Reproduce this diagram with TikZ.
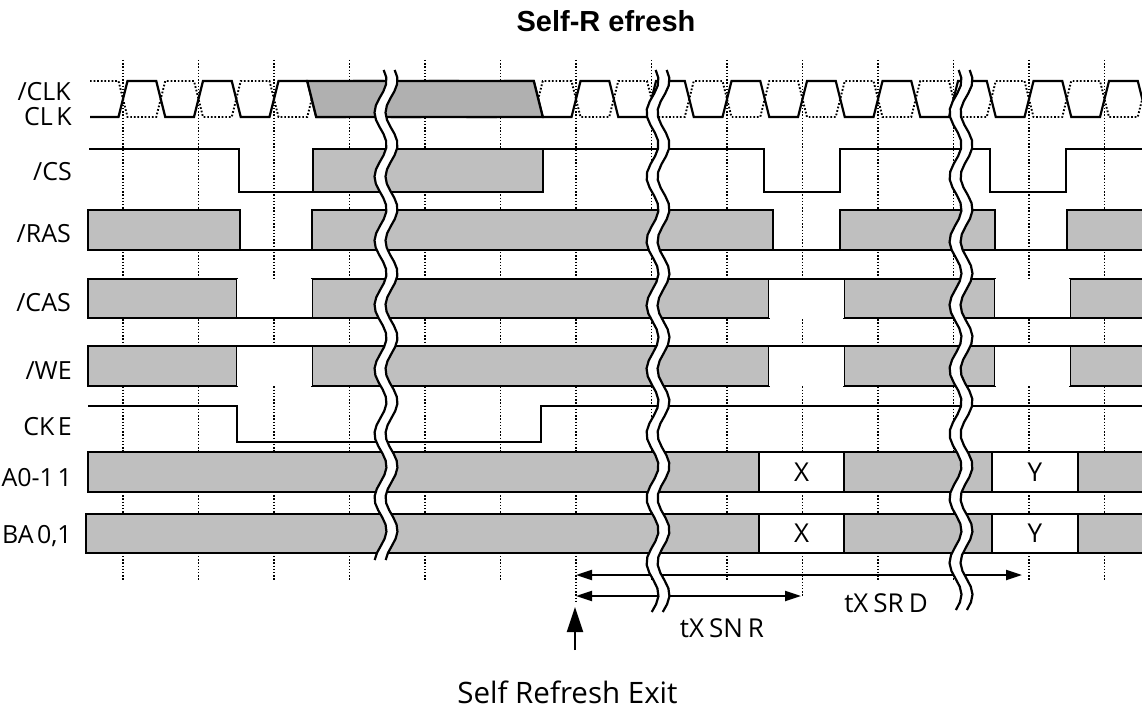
\documentclass[tikz,border=0pt]{standalone}
\usepackage{fontspec}
\setmainfont{Open Sans}
\newfontfamily\titlefont{Liberation Sans}
\usetikzlibrary{arrows.meta}

\tikzset{
  wave/.style={line width=2.2pt, line join=miter},
  bus/.style={wave, fill=gray!50},
  idle/.style={fill=white},
  clkbar/.style={line width=1.9pt, dash pattern=on 1.7pt off 1.9pt},
  gridline/.style={line width=1.5pt, dash pattern=on 1.4pt off 1.8pt},
  tight/.style={execute at begin node={\spaceskip=#1\relax}},
  siglabel/.style={anchor=base east, inner sep=0pt, font=\fontsize{25}{28}\selectfont, tight=3.5pt},
  txt/.style={anchor=base, inner sep=0pt, font=\fontsize{26}{28}\selectfont, tight=5pt},
  dim/.style={line width=2.2pt, <->}
}

% break mark: x centre, top, bottom
\newcommand{\sigbreak}[3]{%
  \fill[white] plot[domain=#2:#3, samples=70] ({#1-5.5+6*sin(5.6*\x)},\x)
    -- plot[domain=#3:#2, samples=70] ({#1+5.5+6*sin(5.6*\x)},\x) -- cycle;
  \draw[wave] plot[domain=#2:#3, samples=70] ({#1-5.5+6*sin(5.6*\x)},\x);
  \draw[wave] plot[domain=#2:#3, samples=70] ({#1+5.5+6*sin(5.6*\x)},\x);
}

\begin{document}
\begin{tikzpicture}[x=1pt, y=-1pt, >={Triangle[length=16pt,width=10pt]}]
\useasboundingbox (0,0) rectangle (1142,709);

% grid
\foreach \k/\yend in {0/580,1/580,2/580,3/580,4/580,5/580,6/603,7/580,8/580,9/596,10/580,11/580,12/580,13/580}
  \draw[gridline] ({123+75.5*\k},60) -- ({123+75.5*\k},\yend);

% clock
\draw[clkbar] (90,81) \foreach \k in {0,...,13} { -- ({123+75.5*\k-4.5},81) -- ({123+75.5*\k+4.5},117)
  -- ({160.75+75.5*\k-4.5},117) -- ({160.75+75.5*\k+4.5},81) };
\draw[wave] (90,117) \foreach \k in {0,...,13} { -- ({123+75.5*\k-4.5},117) -- ({123+75.5*\k+4.5},81)
  -- ({160.75+75.5*\k-4.5},81) -- ({160.75+75.5*\k+4.5},117) };
\filldraw[wave, fill=gray!62] (307.25,81) -- (533.75,81) -- (542.75,117) -- (316.25,117) -- cycle;

% /CS
\draw[wave] (89,149) -- (239,149) -- (239,192) -- (313,192);
\draw[bus] (313,149) rectangle (543,192);
\draw[wave] (543,149) -- (764,149) -- (764,192) -- (840,192) -- (840,149) -- (990,149)
  -- (990,192) -- (1066,192) -- (1066,149) -- (1150,149);

% /RAS
\foreach \a/\b in {88/240,312/773,840/995,1067/1150}
  \draw[bus] (\a,210) rectangle (\b,250);
\foreach \a/\b in {240/312,773/840,995/1067}
  \draw[wave] (\a,250) -- (\b,250);

% /CAS
\foreach \a/\b in {88/237,312/769,844/995,1070/1150}
  \draw[bus] (\a,279) rectangle (\b,318);
\foreach \a/\b/\lvl in {237/312/318,769/844/279,995/1070/318} {
  \fill[idle] (\a,279) rectangle (\b,318);
  \draw[wave] (\a,\lvl) -- (\b,\lvl);
}

% /WE
\foreach \a/\b in {88/237,312/769,844/995,1070/1150}
  \draw[bus] (\a,346) rectangle (\b,386);
\foreach \a/\b in {237/312,769/844,995/1070} {
  \fill[idle] (\a,346) rectangle (\b,386);
  \draw[wave] (\a,346) -- (\b,346);
}

% CKE
\draw[wave] (88,406) -- (237,406) -- (237,442) -- (541,442) -- (541,406) -- (1150,406);

% A0-11 and BA0,1
\foreach \a/\b in {88/759,844/992,1078/1150}
  \draw[bus] (\a,452) rectangle (\b,492);
\draw[wave, idle] (759,452) rectangle (844,492);
\draw[wave, idle] (992,452) rectangle (1078,492);
\node[font=\fontsize{26}{28}\selectfont] (ax) at (801.5,472) {X};
\node[font=\fontsize{26}{28}\selectfont] (ay) at (1035,472) {Y};

\foreach \a/\b in {86/759,844/992,1078/1150}
  \draw[bus] (\a,514) rectangle (\b,553);
\draw[wave, idle] (759,514) rectangle (844,553);
\draw[wave, idle] (992,514) rectangle (1078,553);
\node[font=\fontsize{26}{28}\selectfont] (bx) at (801.5,533.5) {X};
\node[font=\fontsize{26}{28}\selectfont] (by) at (1035,533.5) {Y};

% timing
\coordinate (srdA) at (576,575);
\coordinate (srdB) at (1022,575);
\coordinate (snrA) at (576,596);
\coordinate (snrB) at (801,596);
\coordinate (exitTip) at (575,607);
\coordinate (exitFoot) at (575,650);
\draw[dim] (srdA) -- (srdB);
\draw[dim] (snrA) -- (snrB);
\draw[line width=2.2pt, -{Triangle[length=25pt,width=16pt]}] (exitFoot) -- (exitTip);

% breaks
\sigbreak{386}{70}{560}
\sigbreak{658}{70}{612}
\sigbreak{961}{70}{610}

% labels
\node[anchor=base, inner sep=0pt, font=\titlefont\bfseries\fontsize{29}{32}\selectfont] (title) at (606,31.5) {Self-R efresh};
\node[siglabel] (lclkb) at (71,100) {/CLK};
\node[siglabel] (lclk) at (72,125) {CL K};
\node[siglabel] (lcs) at (72,180) {/CS};
\node[siglabel] (lras) at (71,242.5) {/RAS};
\node[siglabel] (lcas) at (71,311.5) {/CAS};
\node[siglabel] (lwe) at (72,379) {/WE};
\node[siglabel] (lcke) at (72,435) {CK E};
\node[siglabel] (laddr) at (72,486.5) {A0-1 1};
\node[siglabel] (lba) at (72,543) {BA 0,1};
\node[txt] (snr) at (722,637) {tX SN R};
\node[txt] (srd) at (886,612.5) {tX SR D};
\node[anchor=base, inner sep=0pt, font=\fontsize{29.5}{32}\selectfont] (exit) at (567.5,703) {Self Refresh Exit};
\end{tikzpicture}
\end{document}
